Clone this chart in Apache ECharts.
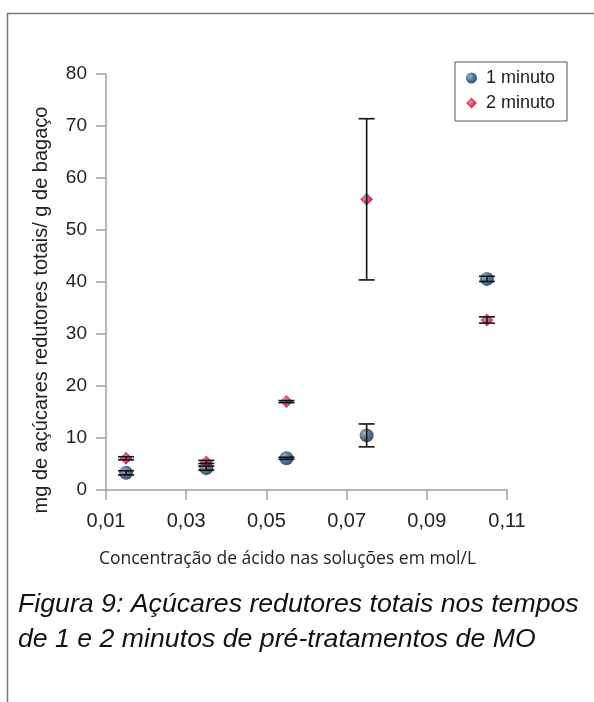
<!DOCTYPE html>
<html>
<head>
<meta charset="utf-8">
<script src="https://cdn.jsdelivr.net/npm/echarts@6/dist/echarts.min.js"></script>
<style>
  html, body { margin: 0; padding: 0; background: #fff; }
  #chart { width: 594px; height: 702px; }
</style>
</head>
<body>
<div id="chart"></div>
<script>
// Acid concentration of each solution (mol/L)
const concentrations = [0.015, 0.035, 0.055, 0.075, 0.105];
// Total reducing sugars (mg / g bagasse) and their standard deviations
const sugars1min = [3.3, 4.2, 6.1, 10.5, 40.6];
const error1min  = [0.4, 0.4, 0.2, 2.2, 0.5];
const sugars2min = [6.1, 5.4, 17.0, 55.9, 32.7];
const error2min  = [0.3, 0.3, 0.2, 15.5, 0.6];
// Axis ticks
const xTicks = [0.01, 0.03, 0.05, 0.07, 0.09, 0.11];
const yTicks = [0, 10, 20, 30, 40, 50, 60, 70, 80];

const seriesNames = ['1 minuto', '2 minuto'];
const caption = ['Figura 9: Açúcares redutores totais nos tempos',
                 'de 1 e 2 minutos de pré-tratamentos de MO'];

const chart = echarts.init(document.getElementById('chart'), null, { renderer: 'canvas' });

const sphere = new echarts.graphic.RadialGradient(0.35, 0.35, 0.75, [
  { offset: 0, color: '#86a9c4' },
  { offset: 0.45, color: '#2b5678' },
  { offset: 1, color: '#0d2238' }
]);
const ruby = new echarts.graphic.RadialGradient(0.4, 0.4, 0.7, [
  { offset: 0, color: '#f06a84' },
  { offset: 0.5, color: '#c8163f' },
  { offset: 1, color: '#7e0c26' }
]);

const pts = (ys) => concentrations.map((x, i) => [x, ys[i]]);
const errPts = (ys, es) => concentrations.map((x, i) => [x, ys[i], es[i]]);

// Vertical error bar with caps, in data coordinates
function errorBar(params, api) {
  const x = api.value(0), y = api.value(1), e = api.value(2);
  const top = api.coord([x, y + e]);
  const bot = api.coord([x, y - e]);
  const half = 8;
  const style = { stroke: '#111', lineWidth: 1.6 };
  return {
    type: 'group',
    children: [
      { type: 'line', shape: { x1: top[0], y1: top[1], x2: bot[0], y2: bot[1] }, style },
      { type: 'line', shape: { x1: top[0] - half, y1: top[1], x2: top[0] + half, y2: top[1] }, style },
      { type: 'line', shape: { x1: bot[0] - half, y1: bot[1], x2: bot[0] + half, y2: bot[1] }, style }
    ]
  };
}

const fmt = (v) => String(Math.round(v * 100) / 100).replace('.', ',');

chart.setOption({
  animation: false,
  backgroundColor: '#fff',
  grid: { left: 106, top: 74, right: 87, bottom: 212, containLabel: false },
  xAxis: {
    type: 'value',
    min: xTicks[0],
    max: xTicks[xTicks.length - 1],
    name: 'Concentração de ácido nas soluções em mol/L',
    nameLocation: 'middle',
    nameGap: 60,
    nameTextStyle: { fontFamily: 'Open Sans', fontSize: 17.5, color: '#222', padding: [0, 38, 0, 0] },
    axisLine: { show: true, lineStyle: { color: '#a0a0a0', width: 1.5 } },
    axisTick: { show: true, length: 10, customValues: xTicks, lineStyle: { color: '#a0a0a0', width: 1.5 } },
    axisLabel: { customValues: xTicks, formatter: fmt, fontFamily: 'Liberation Sans', fontSize: 20, color: '#222', margin: 21 },
    splitLine: { show: false }
  },
  yAxis: {
    type: 'value',
    min: yTicks[0],
    max: yTicks[yTicks.length - 1],
    interval: 10,
    name: 'mg de açúcares redutores totais/ g de bagaço',
    nameLocation: 'middle',
    nameGap: 55,
    nameTextStyle: { fontFamily: 'Liberation Sans', fontSize: 20, color: '#222', padding: [0, 56, 0, 0] },
    axisLine: { show: true, lineStyle: { color: '#a0a0a0', width: 1.5 } },
    axisTick: { show: true, length: 10, lineStyle: { color: '#a0a0a0', width: 1.5 } },
    axisLabel: { fontFamily: 'Liberation Sans', fontSize: 19, color: '#222', margin: 19 },
    splitLine: { show: false }
  },
  legend: {
    left: 455, top: 62,
    orient: 'vertical',
    padding: [7, 12, 9, 11],
    itemGap: 7,
    itemWidth: 11, itemHeight: 11,
    borderColor: '#555', borderWidth: 1,
    backgroundColor: '#fff',
    textStyle: { fontFamily: 'Liberation Sans', fontSize: 18, color: '#222', padding: [0, 0, 0, 4] },
    data: seriesNames
  },
  graphic: [
    { type: 'polyline', shape: { points: [[7.5, 702], [7.5, 13.5], [594, 13.5]] },
      style: { stroke: '#777', lineWidth: 1.5, fill: null }, silent: true },
    { type: 'text', left: 18, top: 587,
      style: { text: caption.join('\n'), font: 'italic 26.7px "Liberation Sans"', fill: '#111', lineHeight: 35 } }
  ],
  series: [
    { name: seriesNames[0], type: 'scatter', symbol: 'circle', symbolSize: 14,
      itemStyle: { color: sphere }, data: pts(sugars1min), z: 2 },
    { name: seriesNames[1], type: 'scatter', symbol: 'diamond', symbolSize: 13,
      itemStyle: { color: ruby }, data: pts(sugars2min), z: 2 },
    { type: 'custom', renderItem: errorBar, data: errPts(sugars1min, error1min), z: 5, silent: true },
    { type: 'custom', renderItem: errorBar, data: errPts(sugars2min, error2min), z: 5, silent: true }
  ]
});
</script>
</body>
</html>
